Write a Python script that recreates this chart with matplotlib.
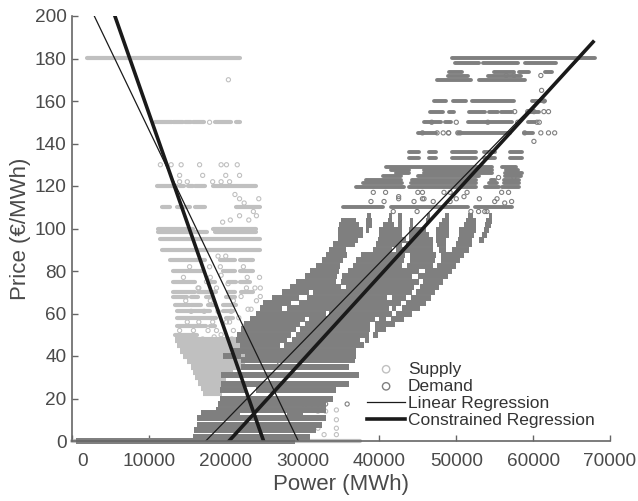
import matplotlib
matplotlib.use('Agg')
import matplotlib.pyplot as plt
from matplotlib.transforms import ScaledTranslation

plt.rcParams['font.family'] = ['Liberation Sans', 'DejaVu Sans']

# supply: price rows where the circles merge into runs, (from, to) in MWh
supply_prices = [180.4, 150, 120, 110, 100, 98.5, 95, 90, 85, 80, 75, 70, 68, 64, 61, 58, 54, 50, 0]
supply_runs = [
    [(1900, 21800)],
    [(10800, 13000), (13200, 14500), (14700, 15500), (15800, 17200), (18600, 20700), (21400, 21800)],
    [(11000, 13600), (14000, 14600), (15100, 15800), (16000, 17300), (18400, 24000)],
    [(11700, 12800), (13600, 15300), (16000, 17300), (21400, 24400)],
    [(11200, 15800), (18400, 24000)],
    [(11200, 17500), (18600, 24000)],
    [(11400, 24400)],
    [(11650, 24400)],
    [(12700, 17300), (19200, 21170), (21820, 23550)],
    [(13160, 17060), (19650, 21170), (21820, 23550)],
    [(13160, 16000), (17920, 18570), (20300, 21390), (21820, 23120)],
    [(13160, 16000), (16400, 18790), (20300, 21170), (22030, 23550)],
    [(13160, 14900), (15540, 16400), (17490, 17920), (20090, 21170)],
    [(13380, 15300), (15540, 16840), (17700, 18570), (19650, 21390)],
    [(13600, 17920), (19650, 20950)],
    [(13600, 18790), (20090, 20950)],
    [(13600, 17490), (17920, 18570)],
    [(13380, 16200)],
    [(0, 37500)],
]
# supply: solid part at the bottom of the V
supply_low_prices = [22.5, 25, 27.5, 30, 32.5, 35, 37.5, 40, 42.5, 45, 47.5]
supply_low_runs = [
    [(17000, 19500)],
    [(16800, 19800)],
    [(16400, 20000)],
    [(16000, 20000)],
    [(15800, 21000)],
    [(15500, 22000)],
    [(15000, 22500)],
    [(14500, 23000)],
    [(14000, 23000)],
    [(13600, 22000)],
    [(13400, 21500)],
]
# supply: single circles
supply_x = [20350, 11500, 12900, 14200, 16600, 19400, 20100, 21500, 14000, 17000, 20000, 21800, 14000, 15000, 18300, 19400, 20500, 17900,
            21200, 21800, 22400, 23600, 24300, 19600, 20600, 21800, 23000, 24000, 23800, 24400, 24000, 32000, 32800, 34400, 34400, 34400,
            32000, 33000, 34400, 22000, 22900, 19400, 24500, 24500, 14500, 15300, 16400, 18000, 19000, 20000, 22300, 22800, 14800, 16500,
            18000, 21000, 22700, 23300, 15500, 17200, 19000, 20700, 15000, 16500, 18300, 20100, 14000, 15800, 17700, 18800, 21000, 16000,
            17000, 18500, 19400, 20800, 17500, 18800, 20500, 17900, 19300, 20300, 21700, 22400]
supply_y = [170, 130, 130, 130, 130, 130, 130, 130, 125, 125, 125, 125, 122, 122, 122, 122, 122, 150,
            116, 114, 112, 108, 114, 103, 104, 106, 104, 106, 72, 77, 66, 6, 3, 3, 10, 14.6,
            14, 14, 6, 68, 62, 78, 68, 72, 77, 82, 72, 77, 87, 87, 82, 77, 66, 72,
            66, 66, 72, 62, 61, 61, 61, 61, 56, 56, 56, 56, 52, 52, 52, 52, 52, 47,
            48, 49, 50, 48, 75, 72, 56, 82, 82, 74, 58, 54]

# demand: dense part, price rows with runs
demand_prices = [0, 2, 5, 7.5, 10.6, 13, 14.6, 17.4, 20, 24, 27, 31, 35, 38, 40, 42.5, 45, 47.5, 50, 52.5, 55, 57.5, 60, 62.5, 65, 67.5,
                 70, 72.5, 75, 77.5, 80, 82.5, 85, 87.5, 90, 92.5, 94.6, 97, 99.4, 101.5, 103.5, 106]
demand_runs = [
    [(500, 29000)],
    [(15800, 31000)],
    [(15900, 31800)],
    [(16200, 32500)],
    [(16200, 33100)],
    [(16800, 21800), (28000, 30000)],
    [(18800, 33000)],
    [(19000, 33000)],
    [(19200, 34000)],
    [(19200, 22500), (24000, 34400)],
    [(19400, 36000)],
    [(19400, 37400)],
    [(22000, 36000)],
    [(22000, 36800)],
    [(19700, 22000), (22500, 37000)],
    [(21000, 37000)],
    [(21800, 27000), (27600, 38000)],
    [(21300, 28000), (28600, 37500), (38100, 38600)],
    [(21500, 28500), (29100, 38700), (39200, 39800)],
    [(22000, 29100), (29700, 38800), (39400, 40900)],
    [(22400, 29700), (30300, 38800), (39400, 42000)],
    [(23200, 30300), (30800, 39400), (39900, 40900), (41500, 43200)],
    [(24000, 33000), (33400, 41600), (42100, 44300)],
    [(24500, 27300), (28000, 41200), (41700, 42200), (42900, 45300)],
    [(24900, 28500), (29500, 42800), (43500, 46000)],
    [(26000, 29600), (30600, 41000), (41600, 43400), (44100, 46700)],
    [(27300, 30800), (31400, 44200), (44800, 47200)],
    [(28300, 35000), (35600, 44500), (45300, 47800)],
    [(29200, 34400), (35000, 45100), (45700, 48300)],
    [(30300, 34500), (35100, 44300), (45000, 48900)],
    [(31000, 34700), (35900, 45200), (45900, 49400)],
    [(31800, 34900), (36500, 43000), (43600, 47000), (47500, 50000)],
    [(32500, 35300), (37000, 43200), (44000, 47200), (48000, 50500)],
    [(33000, 35800), (37600, 43300), (44000, 47300), (48000, 51000)],
    [(33500, 35600), (39100, 41700), (42200, 47000), (47800, 48700), (49500, 51700)],
    [(34000, 36800), (39500, 43000), (43500, 47000), (47500, 48700), (50000, 52000)],
    [(34600, 37200), (39800, 43500), (43900, 47000), (47400, 48700), (50200, 52100), (53000, 53600)],
    [(34600, 37800), (39900, 43000), (43900, 46500), (47400, 49000), (50300, 52300), (53300, 54000)],
    [(34600, 37800), (38300, 38600), (40000, 43000), (43900, 46000), (47400, 49100), (50400, 52500), (53600, 54300)],
    [(34800, 37300), (38300, 39000), (40500, 41900), (42400, 43000), (44000, 44400), (47800, 49100), (51000, 52500), (53800, 54500)],
    [(35000, 37000), (38300, 39000), (41100, 41700), (42400, 43000), (44000, 44400), (46000, 46500), (48200, 49100), (51300, 52500), (53900, 54700)],
    [(38400, 38900), (41300, 41700), (42400, 43000), (46200, 46600), (48500, 49000), (51500, 52200), (54200, 54700)],
]

# demand: separated upper rows, thinner runs
upper_prices = [110, 119.7, 121.3, 122.9, 124.5, 126, 127.5, 129, 133, 136, 145, 150, 155, 160, 170, 172, 173.8, 178, 180.4]
upper_runs = [
    [(35200, 40400), (41500, 51500), (52400, 57300)],
    [(37000, 43200), (43900, 52500), (53800, 55600), (56000, 58200)],
    [(37800, 43000), (44100, 52500), (54300, 55300), (56200, 58200)],
    [(38300, 42800), (44300, 52500), (54500, 55000), (56200, 58200)],
    [(40500, 42800), (45000, 53000), (56300, 58400)],
    [(42200, 43900), (45800, 54700), (56400, 58600)],
    [(41500, 43800), (45800, 54700), (56500, 58000)],
    [(40900, 54700), (56000, 57800)],
    [(43900, 45200), (46500, 47400), (49500, 52500), (53600, 55100), (57000, 58500)],
    [(43900, 45200), (46500, 47400), (49500, 52500), (53600, 55100), (57000, 58500)],
    [(45000, 47300), (50200, 57000), (58800, 60000)],
    [(45800, 48000), (48500, 49300), (51500, 57300), (59300, 60300)],
    [(46600, 48300), (49100, 49700), (51700, 53800), (54300, 55400), (55800, 57200), (59300, 60800)],
    [(47100, 48700), (49600, 51300), (52000, 57500), (59900, 61600)],
    [(47500, 51900), (52900, 59000)],
    [(48900, 51500), (54100, 58400)],
    [(49100, 50800), (54900, 57500), (58200, 59500), (61600, 62500)],
    [(49800, 53000), (53500, 58000), (59000, 63000)],
    [(49500, 68100)],
]

# demand: single circles
demand_x = [46800, 50000, 54100, 60500, 61400, 59300, 61400, 57600, 60100, 62000, 62800, 45600, 49000, 50500, 58900, 61000, 62000, 60100,
            47500, 48300, 49000, 50200, 58000, 60800, 61000, 56500, 57500, 61100, 38900, 40600, 42500, 44500, 45800, 47000, 49200, 50000,
            51000, 53000, 55000, 57200, 39200, 40800, 45000, 45600, 48400, 49200, 51400, 55900, 56800, 33000, 35800, 32000, 30500,
            28000, 27000, 30000, 31200, 32500, 42500, 41800, 44900, 45600, 51900, 54000, 55300, 56300, 52900, 53700, 55500, 57500]
demand_y = [150, 150, 150, 150, 155, 155, 160, 155, 155, 155, 145, 145, 145, 145, 145, 145, 145, 141,
            145, 145, 145, 145, 150, 150, 172, 172, 172, 165, 112.7, 112.7, 114, 112.7, 114, 112.7, 112.7, 114,
            115, 114, 112.7, 112.7, 117, 117, 117, 117, 117, 117, 117, 117, 117, 17.4, 17.4, 17.4, 17.4,
            40, 36, 17.4, 17.4, 17.4, 115, 108, 108, 114, 108, 108, 114, 112, 108, 108, 124, 124]

# regression lines, (power, price) of both ends
linear_supply_x = [2900, 29440]
linear_supply_y = [200, 0]
constrained_supply_x = [5580, 24930]
constrained_supply_y = [200, 0]
linear_demand_x = [17400, 66000]
linear_demand_y = [0, 180]
constrained_demand_x = [20430, 67800]
constrained_demand_y = [0, 187.8]

xticks = [0, 10000, 20000, 30000, 40000, 50000, 60000, 70000]
yticks = [0, 20, 40, 60, 80, 100, 120, 140, 160, 180, 200]

supply_color = '#c0c0c0'
demand_color = '#7f7f7f'
text_color = '#4a4a4a'


def draw_runs(ax, prices, runs, color, lw, cap='round'):
    for price, row in zip(prices, runs):
        for start, end in row:
            ax.plot([start, end], [price, price], color=color, lw=lw, solid_capstyle=cap, clip_on=False)


fig = plt.figure(figsize=(6.38, 5.01), dpi=100)
ax = fig.add_axes([72 / 638, 60 / 501, 538 / 638, 425 / 501])

draw_runs(ax, supply_prices, supply_runs, supply_color, 3.0)
draw_runs(ax, supply_low_prices, supply_low_runs, supply_color, 4.4, 'butt')
ax.scatter(supply_x, supply_y, s=9, facecolors='none', edgecolors=supply_color, linewidths=0.8, clip_on=False)
draw_runs(ax, demand_prices, demand_runs, demand_color, 4.3, 'butt')
draw_runs(ax, upper_prices, upper_runs, demand_color, 2.8)
ax.scatter(demand_x, demand_y, s=9, facecolors='none', edgecolors=demand_color, linewidths=0.8, clip_on=False)

ax.plot(linear_supply_x, linear_supply_y, color='#1a1a1a', lw=0.9)
ax.plot(constrained_supply_x, constrained_supply_y, color='#1a1a1a', lw=2.6)
ax.plot(linear_demand_x, linear_demand_y, color='#1a1a1a', lw=0.9)
ax.plot(constrained_demand_x, constrained_demand_y, color='#1a1a1a', lw=2.6)

# legend handles only
ax.scatter([], [], s=28, facecolors='none', edgecolors=supply_color, linewidths=1, label='Supply')
ax.scatter([], [], s=28, facecolors='none', edgecolors=demand_color, linewidths=1, label='Demand')
ax.plot([], [], color='#1a1a1a', lw=0.9, label='Linear Regression')
ax.plot([], [], color='#1a1a1a', lw=2.6, label='Constrained Regression')
ax.legend(loc='lower left', bbox_to_anchor=(367 / 638, 73 / 501), bbox_transform=fig.transFigure, frameon=False,
          fontsize=12.5, labelspacing=0.11, handlelength=2.2, handletextpad=0.15, borderpad=0, borderaxespad=0,
          labelcolor='#333333')

ax.set_xlim(0, 70000)
ax.set_ylim(0, 200)
ax.set_xticks(xticks)
ax.set_yticks(yticks)
ax.spines['top'].set_visible(False)
ax.spines['right'].set_visible(False)
ax.spines['left'].set_color('#666666')
ax.spines['bottom'].set_color('#666666')
ax.spines['left'].set_linewidth(1.2)
ax.spines['bottom'].set_linewidth(1.2)
ax.tick_params(direction='in', length=4, width=1, color='#666666', labelcolor=text_color, labelsize=13.7)
ax.tick_params(axis='x', pad=8.5)
ax.tick_params(axis='y', pad=4)
ax.set_xlabel('Power (MWh)', fontsize=16, color=text_color, labelpad=3)
ax.set_ylabel('Price (€/MWh)', fontsize=16, color=text_color, labelpad=2.5)

# the 0 label sits to the right of the axis in the original
zero_label = ax.get_xticklabels()[0]
zero_label.set_transform(zero_label.get_transform() + ScaledTranslation(11 / 100, 0, fig.dpi_scale_trans))

fig.savefig('out.png', dpi=100)
